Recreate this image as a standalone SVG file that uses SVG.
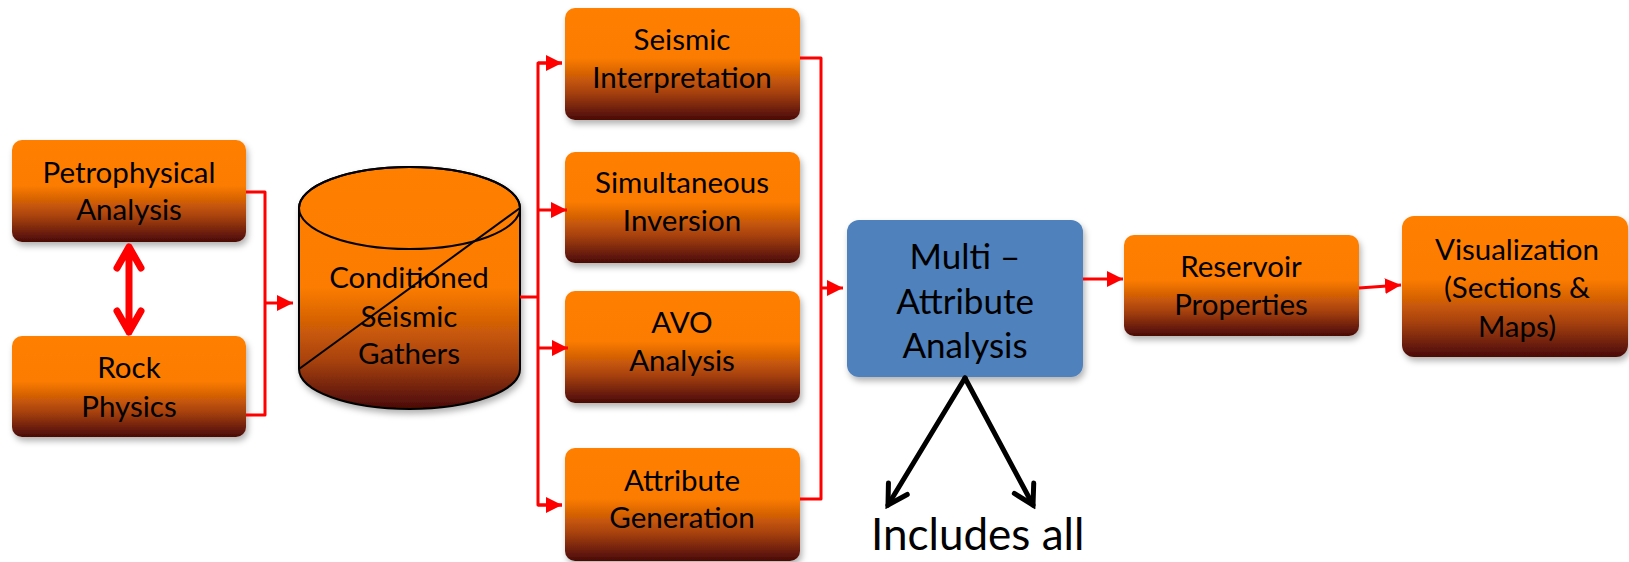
<svg xmlns="http://www.w3.org/2000/svg" width="1629" height="562" viewBox="0 0 1629 562">
<defs>
<style>
.lbl{font-family:Lato,"Open Sans","Liberation Sans",sans-serif;font-size:29.5px;fill:#000;text-anchor:middle}
.big{font-size:35px}
.ob{fill:url(#og);filter:url(#sh)}
.red{stroke:#FF0000;stroke-width:3;fill:none;stroke-linejoin:round}
.blk{stroke:#000;stroke-width:5;fill:none;stroke-linecap:round}
.dbl{stroke:#FF0000;stroke-width:7;fill:none;stroke-linecap:round;stroke-linejoin:round}
</style>
<linearGradient id="og" x1="0" y1="0" x2="0" y2="1">
<stop offset="0" stop-color="#FF7F00"/>
<stop offset="0.45" stop-color="#FB7C00"/>
<stop offset="0.75" stop-color="#A8420C"/>
<stop offset="1" stop-color="#4A0A06"/>
</linearGradient>
<linearGradient id="cg" x1="0" y1="0" x2="0" y2="1">
<stop offset="0" stop-color="#FF7F00"/>
<stop offset="0.5" stop-color="#FB7C00"/>
<stop offset="0.8" stop-color="#A8420C"/>
<stop offset="1" stop-color="#4A0A06"/>
</linearGradient>
<filter id="sh" x="-10%" y="-10%" width="125%" height="130%">
<feDropShadow dx="2" dy="4" stdDeviation="3" flood-color="#000" flood-opacity="0.3"/>
</filter>
<marker id="ra" markerUnits="userSpaceOnUse" markerWidth="18" markerHeight="18" viewBox="-16 -9 18 18" refX="0" refY="0" orient="auto">
<path d="M-16,-8 L0,0 L-16,8 Z" fill="#FF0000"/>
</marker>
<marker id="ba" markerUnits="userSpaceOnUse" markerWidth="30" markerHeight="30" viewBox="-25 -15 30 30" refX="0" refY="0" orient="auto">
<path d="M-19,-11 L0,0 L-19,11" fill="none" stroke="#000" stroke-width="5" stroke-linecap="round" stroke-linejoin="miter"/>
</marker>
</defs>
<rect width="1629" height="562" fill="#fff"/>

<g id="petro">
<rect class="ob" x="12" y="140" width="234" height="102" rx="10"/>
<text class="lbl" x="129" y="183">Petrophysical</text>
<text class="lbl" x="129" y="220">Analysis</text>
</g>
<g id="rock">
<rect class="ob" x="12" y="336" width="234" height="101" rx="10"/>
<text class="lbl" x="129" y="378">Rock</text>
<text class="lbl" x="129" y="417">Physics</text>
</g>
<g id="gathers">
<path d="M299,208 A110.5,41 0 0 1 520,208 L520,369 A110.5,40 0 0 1 299,369 Z" fill="url(#cg)" stroke="#000" stroke-width="2" filter="url(#sh)"/>
<ellipse cx="409.5" cy="208" rx="110.5" ry="41" fill="none" stroke="#000" stroke-width="2"/>
<line x1="299" y1="369" x2="520" y2="208" stroke="#000" stroke-width="2"/>
<text class="lbl" x="409" y="288">Conditioned</text>
<text class="lbl" x="409" y="327">Seismic</text>
<text class="lbl" x="409" y="364">Gathers</text>
</g>
<g id="interp">
<rect class="ob" x="565" y="8" width="235" height="112" rx="10"/>
<text class="lbl" x="682" y="50">Seismic</text>
<text class="lbl" x="682" y="88">Interpretation</text>
</g>
<g id="inversion">
<rect class="ob" x="565" y="152" width="235" height="111" rx="10"/>
<text class="lbl" x="682" y="193">Simultaneous</text>
<text class="lbl" x="682" y="231">Inversion</text>
</g>
<g id="avo">
<rect class="ob" x="565" y="291" width="235" height="112" rx="10"/>
<text class="lbl" x="682" y="333">AVO</text>
<text class="lbl" x="682" y="371">Analysis</text>
</g>
<g id="attrgen">
<rect class="ob" x="565" y="448" width="235" height="113" rx="10"/>
<text class="lbl" x="682" y="491">Attribute</text>
<text class="lbl" x="682" y="528">Generation</text>
</g>
<g id="multi">
<rect x="847" y="220" width="236" height="157" rx="12" fill="#4F81BD" filter="url(#sh)"/>
<text class="lbl big" x="965" y="269">Multi –</text>
<text class="lbl big" x="965" y="314">Attribute</text>
<text class="lbl big" x="965" y="358">Analysis</text>
</g>
<g id="reservoir">
<rect class="ob" x="1124" y="235" width="235" height="101" rx="10"/>
<text class="lbl" x="1241" y="277">Reservoir</text>
<text class="lbl" x="1241" y="315">Properties</text>
</g>
<g id="visual">
<rect class="ob" x="1402" y="216" width="226" height="141" rx="12"/>
<text class="lbl" x="1517" y="260">Visualization</text>
<text class="lbl" x="1517" y="298">(Sections &amp;</text>
<text class="lbl" x="1517" y="337">Maps)</text>
</g>
<g id="includes">
<text x="871" y="550" style="font-family:Lato,'Open Sans','Liberation Sans',sans-serif;font-size:44px;fill:#000">Includes all</text>
</g>

<g id="connectors">
<path class="dbl" d="M129,247 V332 M117,268 L129,247 L141,268 M117,311 L129,332 L141,311"/>
<path class="red" d="M246,192 H265 V415 H246"/>
<path class="red" d="M265,303 H293" marker-end="url(#ra)"/>
<path class="red" d="M520,297 H538"/>
<path class="red" d="M562,63 H538 V505 H562"/>
<path class="red" d="M538,63 H562" marker-end="url(#ra)"/>
<path class="red" d="M538,210 H567" marker-end="url(#ra)"/>
<path class="red" d="M538,348 H568" marker-end="url(#ra)"/>
<path class="red" d="M538,505 H562" marker-end="url(#ra)"/>
<path class="red" d="M800,58 H821 V499 H800"/>
<path class="red" d="M821,288 H843" marker-end="url(#ra)"/>
<path class="red" d="M1083,279 H1123" marker-end="url(#ra)"/>
<path class="red" d="M1359,288 L1401,285" marker-end="url(#ra)"/>
<line class="blk" x1="965" y1="378" x2="888" y2="505" marker-end="url(#ba)"/>
<line class="blk" x1="965" y1="378" x2="1033" y2="505" marker-end="url(#ba)"/>
</g>
</svg>
